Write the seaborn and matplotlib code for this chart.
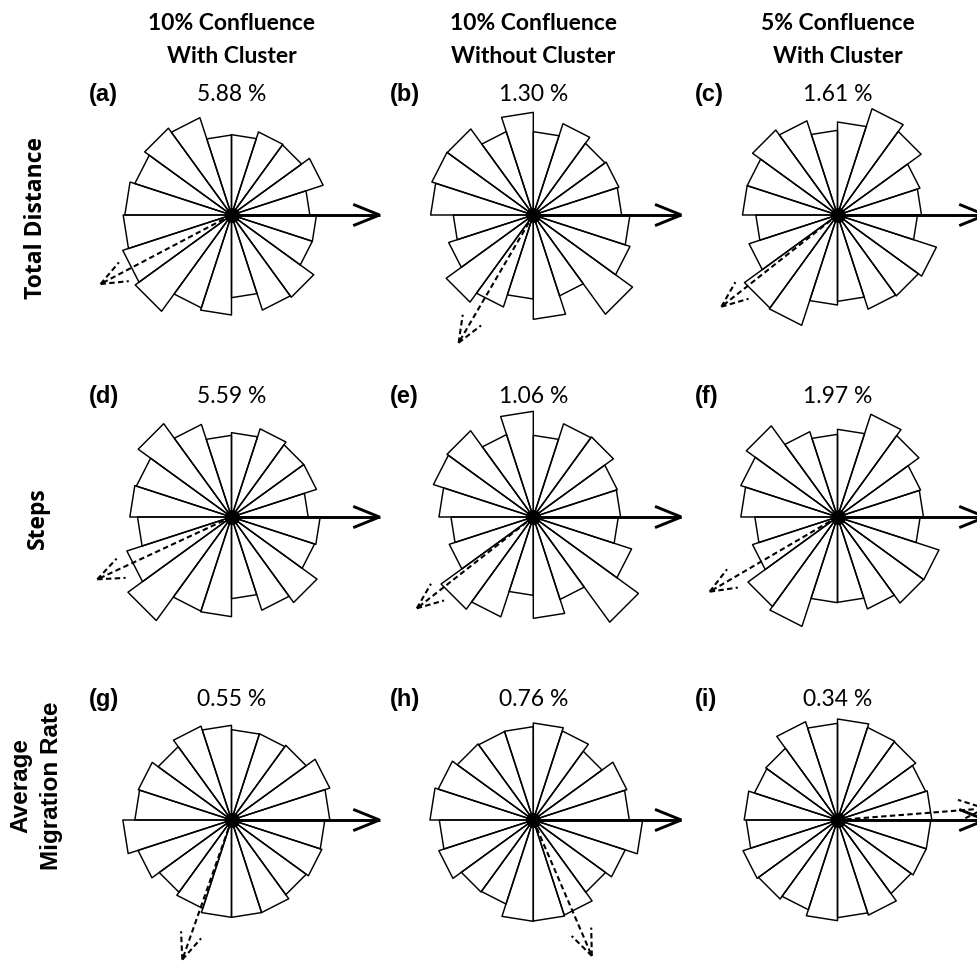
import numpy as np
import pandas as pd
import matplotlib
matplotlib.use("Agg")
import matplotlib.pyplot as plt
import seaborn as sns

sns.set_theme(style="white")
plt.rcParams["font.family"] = ["DejaVu Sans"]
plt.rcParams["text.color"] = "black"

# ---- labels -------------------------------------------------------------
condition_top = ["10% Confluence", "10% Confluence", "5% Confluence"]
condition_bottom = ["With Cluster", "Without Cluster", "With Cluster"]
metric_labels = ["Total Distance", "Steps", "Average\nMigration Rate"]
panel_tags = ["(a)", "(b)", "(c)", "(d)", "(e)", "(f)", "(g)", "(h)", "(i)"]
percent_labels = ["5.88 %", "1.30 %", "1.61 %",
                  "5.59 %", "1.06 %", "1.97 %",
                  "0.55 %", "0.76 %", "0.34 %"]

# ---- rose histograms: 20 sectors of 18 deg, counter-clockwise from east ----
counts_a = [235, 289, 260, 262, 241, 240, 307, 322, 305, 320,
            325, 343, 357, 293, 300, 248, 300, 305, 255, 255]
counts_b = [265, 270, 266, 288, 250, 308, 263, 319, 320, 308,
            240, 267, 323, 290, 252, 313, 255, 368, 305, 290]
counts_c = [252, 260, 310, 335, 279, 254, 297, 315, 285, 285,
            245, 279, 345, 348, 270, 259, 297, 300, 312, 240]
counts_d = [230, 268, 268, 278, 253, 245, 292, 346, 300, 305,
            282, 330, 384, 297, 299, 245, 294, 317, 262, 266]
counts_e = [262, 265, 297, 294, 245, 317, 260, 320, 315, 283,
            247, 265, 342, 315, 235, 304, 260, 390, 310, 255]
counts_f = [258, 262, 302, 324, 263, 248, 269, 338, 305, 290,
            248, 268, 332, 345, 257, 256, 290, 319, 320, 248]
counts_g = [295, 310, 277, 272, 271, 284, 296, 272, 294, 290,
            326, 295, 268, 279, 292, 292, 292, 277, 285, 280]
counts_h = [288, 295, 255, 281, 291, 280, 279, 282, 300, 310,
            282, 298, 267, 265, 304, 303, 300, 268, 290, 328]
counts_i = [283, 278, 290, 292, 303, 290, 310, 266, 262, 280,
            274, 298, 293, 283, 302, 293, 300, 273, 280, 280]

# mean migration direction (degrees, counter-clockwise from east)
mean_direction = [207.8, 239.7, 218.3, 204.9, 218.1, 210.3, 250.6, 293.3, 4.5]

all_counts = [counts_a, counts_b, counts_c, counts_d, counts_e,
              counts_f, counts_g, counts_h, counts_i]

# ---- geometry / style ---------------------------------------------------
W, H = 977, 962
col_x = [231.5, 533.3, 837.5]
row_y = [216.0, 518.0, 821.0]
half_px = 150.0           # half-size of each rose axes in pixels
lim = 450.0               # data half-range that maps onto half_px
arrow_len = 444.0
head_len = 85.0
head_angle = np.deg2rad(22)
bin_edges = np.deg2rad(np.arange(0, 361, 18))

fig = plt.figure(figsize=(W / 100, H / 100), dpi=100)
fig.patch.set_facecolor("white")


def fx(px):
    return px / W


def fy(py):
    return 1 - py / H


def rose_frame(counts):
    rows = []
    for k, r in enumerate(counts):
        a0, a1 = bin_edges[k], bin_edges[k + 1]
        pts = [(0.0, 0.0), (r * np.cos(a0), r * np.sin(a0)),
               (r * np.cos(a1), r * np.sin(a1)), (0.0, 0.0)]
        for j, (x, y) in enumerate(pts):
            rows.append({"sector": k, "order": j, "x": x, "y": y})
    return pd.DataFrame(rows)


def draw_arrow(ax, angle_deg, **kw):
    th = np.deg2rad(angle_deg)
    tip = np.array([arrow_len * np.cos(th), arrow_len * np.sin(th)])
    ax.plot([0, tip[0]], [0, tip[1]], **kw)
    for s in (+1, -1):
        back = th + np.pi + s * head_angle
        end = tip + head_len * np.array([np.cos(back), np.sin(back)])
        ax.plot([tip[0], end[0]], [tip[1], end[1]], **kw)


for idx, counts in enumerate(all_counts):
    r, c = divmod(idx, 3)
    cx, cy = col_x[c], row_y[r]
    ax = fig.add_axes([fx(cx - half_px), fy(cy + half_px),
                       2 * half_px / W, 2 * half_px / H])
    df = rose_frame(counts)
    sns.lineplot(data=df, x="x", y="y", units="sector", estimator=None,
                 sort=False, color="black", linewidth=1.05, ax=ax,
                 legend=False)
    # mean direction (dashed) and reference direction (solid)
    draw_arrow(ax, mean_direction[idx], color="black", linewidth=1.5,
               linestyle=(0, (2.6, 1.6)), clip_on=False,
               solid_capstyle="butt", dash_capstyle="butt")
    draw_arrow(ax, 0.0, color="black", linewidth=2.1, clip_on=False,
               solid_capstyle="butt")
    ax.scatter([0], [0], s=95, color="black", zorder=5, clip_on=False)
    ax.set_xlim(-lim, lim)
    ax.set_ylim(-lim, lim)
    ax.set_aspect("equal")
    ax.axis("off")

    # percent annotation and panel tag
    fig.text(fx(cx), fy(cy - 115), percent_labels[idx], ha="center",
             va="baseline", fontsize=16.5, family=["Lato", "DejaVu Sans"])
    fig.text(fx(cx - 143), fy(cy - 115), panel_tags[idx], ha="left",
             va="baseline", fontsize=17, fontweight="bold",
             family=["Liberation Sans", "DejaVu Sans"])

# column headers
for c in range(3):
    fig.text(fx(col_x[c]), fy(30), condition_top[c], ha="center",
             va="baseline", fontsize=16.5, fontweight="bold",
             family=["Lato", "DejaVu Sans"])
    fig.text(fx(col_x[c]), fy(63), condition_bottom[c], ha="center",
             va="baseline", fontsize=16.5, fontweight="bold",
             family=["Lato", "DejaVu Sans"])

# row headers
row_label_y = [218, 518, 786]
row_label_x = [36, 38, 36]
row_sizes = [16.5, 16.5, 17.5]
row_fonts = ["Open Sans", "Open Sans", "Liberation Sans"]
for r in range(3):
    fig.text(fx(row_label_x[r]), fy(row_label_y[r]), metric_labels[r],
             ha="center", va="center", rotation=90, fontsize=row_sizes[r],
             fontweight="bold", linespacing=1.4,
             family=[row_fonts[r], "DejaVu Sans"])

fig.savefig("out.png", dpi=100, facecolor="white")
